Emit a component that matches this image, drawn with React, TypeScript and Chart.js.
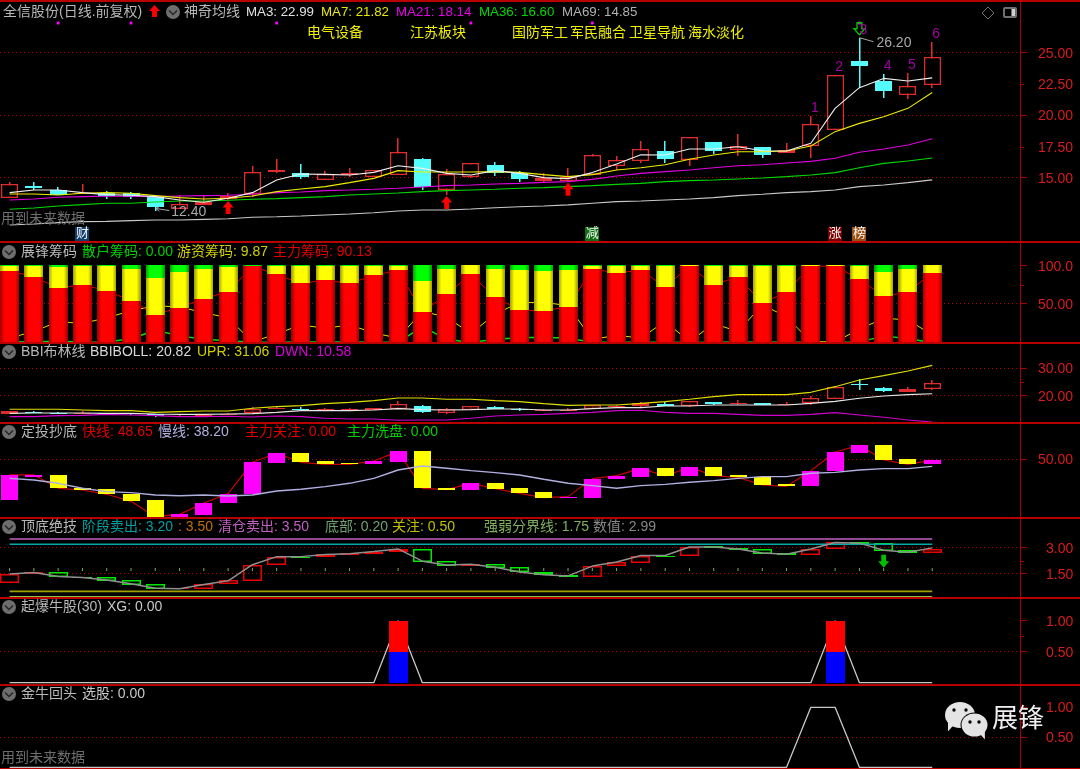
import React, { useEffect, useRef } from "react";
import { Chart, registerables } from "chart.js";

Chart.register(...registerables);

/* ---------- candles ---------- */
const open = [13.43,14.39,14.04,13.72,13.78,13.78,13.46,12.55,12.85,13.35,13.70,15.51,15.37,14.87,15.21,15.05,15.27,16.52,14.04,15.08,16.04,15.40,14.76,14.79,15.27,15.93,16.33,17.15,16.46,17.87,17.26,17.50,17.02,17.55,18.86,24.31,22.74,21.60,22.45];
const close = [14.49,14.20,13.64,13.83,13.56,13.46,12.66,12.93,13.08,13.56,15.45,15.64,15.05,15.32,15.37,15.64,17.05,14.26,15.29,16.22,15.43,14.95,14.97,15.11,16.86,16.41,17.31,16.54,18.25,17.18,17.58,16.81,17.23,19.34,23.19,23.96,21.97,22.37,24.66];
const high = [14.65,14.71,14.31,14.52,13.96,13.91,13.64,13.64,13.64,13.83,15.96,16.49,16.14,15.56,15.77,15.64,18.17,16.60,15.69,16.22,16.25,15.59,15.37,15.77,16.92,16.78,17.98,17.98,18.25,17.87,18.54,17.50,17.79,19.92,23.19,26.20,23.30,23.41,25.88];
const low = [13.43,14.04,13.64,13.72,13.30,13.30,12.40,12.55,12.85,13.24,13.51,15.43,14.92,14.87,15.11,15.05,15.27,14.04,13.64,15.03,15.16,14.68,14.57,14.71,15.27,15.64,16.17,16.22,15.98,16.92,16.78,16.62,17.02,16.62,18.86,22.16,21.41,21.33,22.21];
const ma3 = [13.83,14.04,14.04,13.83,13.67,13.62,13.51,13.24,13.06,13.38,13.83,14.84,15.32,15.29,15.24,15.45,15.98,15.77,15.37,15.24,15.59,15.37,15.03,14.95,15.43,16.12,16.86,16.84,17.31,17.31,17.50,17.18,17.15,17.77,20.56,22.21,22.95,22.74,22.99];
const ma7 = [13.72,13.72,13.64,13.78,13.83,13.78,13.59,13.43,13.32,13.38,13.56,13.91,14.12,14.31,14.63,14.97,15.59,15.48,15.48,15.48,15.51,15.45,15.27,15.11,15.27,15.64,15.82,16.06,16.49,16.84,17.10,17.10,17.15,17.55,18.70,19.36,19.89,20.56,21.82];
const ma21 = [13.24,13.32,13.46,13.51,13.54,13.54,13.51,13.56,13.59,13.62,13.70,13.83,13.88,13.99,14.04,14.10,14.18,14.28,14.39,14.44,14.52,14.57,14.65,14.71,14.89,15.16,15.37,15.51,15.64,15.82,15.98,16.06,16.20,16.33,16.57,17.05,17.31,17.63,18.14];
const ma36 = [12.50,12.61,12.77,12.87,12.98,12.98,13.08,13.16,13.16,13.22,13.30,13.35,13.43,13.51,13.64,13.72,13.80,13.91,13.99,14.04,14.10,14.18,14.23,14.31,14.39,14.49,14.57,14.71,14.79,14.84,14.92,15.00,15.11,15.24,15.43,15.82,16.17,16.36,16.60];
const ma69 = [11.25,11.33,11.44,11.52,11.54,11.60,11.65,11.65,11.70,11.75,11.86,11.91,11.97,12.05,12.13,12.23,12.37,12.45,12.45,12.53,12.63,12.71,12.77,12.85,12.98,13.11,13.16,13.24,13.32,13.43,13.59,13.70,13.83,13.91,14.04,14.31,14.44,14.63,14.85];
const eventDotBars = [2, 5, 11, 19, 24, 35];
const eventDotLevel = 27.37;
const buyArrowBars = [9, 18, 23];
const countBars = [33, 34, 35, 36, 37, 38];
const tagBars = [3, 24, 34, 35];
const tagTexts = ["财", "减", "涨", "榜"];

/* ---------- chips ---------- */
const chipMain = [93.1,85.3,70.7,75.0,67.2,54.3,36.2,45.3,56.9,65.9,98.7,88.4,76.7,81.0,76.7,87.1,94.0,39.2,62.9,88.4,58.6,42.2,40.9,46.6,95.7,90.1,94.0,72.0,99.1,75.0,85.3,50.9,65.9,99.1,99.1,82.3,59.9,65.9,90.13];
const chipHot = [6.0,14.2,27.2,24.6,32.3,40.9,47.8,46.1,38.8,31.9,0.9,11.2,22.8,18.5,22.8,12.5,5.6,40.5,32.8,11.6,37.1,51.7,52.2,47.8,3.9,9.5,5.6,27.6,0.9,24.6,14.2,48.7,33.6,0.9,0.9,17.2,31.5,29.3,9.87];
const chipRetail = [0.9,0.5,2.1,0.4,0.5,4.8,16.0,8.6,4.3,2.2,0.4,0.4,0.5,0.5,0.5,0.4,0.4,20.3,4.3,0.0,4.3,6.1,6.9,5.6,0.4,0.4,0.4,0.4,0.0,0.4,0.5,0.4,0.5,0.0,0.0,0.5,8.6,4.8,0.0];

/* ---------- BBI Boll ---------- */
const bbi = [13.74,13.86,13.86,13.86,13.74,13.74,13.50,13.38,13.38,13.50,13.62,14.10,14.71,14.71,14.71,14.95,15.43,15.07,14.95,15.07,15.31,15.31,14.95,14.95,15.43,15.79,15.79,16.39,16.39,16.75,16.75,16.75,16.75,17.35,18.07,19.16,20.00,20.48,20.82];
const upr = [15.19,15.19,15.19,14.95,14.71,14.71,14.10,14.34,14.58,14.58,15.55,16.15,16.51,17.23,17.71,18.32,19.28,19.28,18.80,18.80,18.32,17.95,17.23,16.63,16.75,16.75,17.35,17.95,18.80,19.76,20.48,20.48,20.48,21.32,23.37,25.78,27.34,29.03,31.06];
const dwn = [12.54,12.54,12.90,13.02,13.38,13.14,12.90,12.54,12.54,12.66,12.42,12.78,12.54,11.94,11.70,11.70,11.22,11.34,11.34,11.94,12.78,13.14,13.38,13.74,14.10,14.71,14.83,14.10,13.74,13.74,13.38,13.02,13.02,13.38,13.98,13.14,12.30,11.34,10.58];

/* ---------- fixed investment ---------- */
const fastOpen = [-17.8,21.1,23.9,2.8,0.6,-7.8,-18.3,-45.6,-42.8,-23.3,-7.8,43.3,60,47.2,43.3,41.7,45,63.9,2.8,-0.6,10,2.2,-5,-13.9,-13.9,16.7,20.6,35,22.2,36.7,23.3,21.1,8.3,5,30,61.1,73.3,50,41.7];
const fastClose = [23.9,23.9,1.7,-1.1,-8.3,-20,-45.6,-41.7,-22.8,-7.2,45,60,45,41.7,41.7,47.2,63.3,1.7,-0.6,10,1.1,-6.7,-13.9,-12.2,17.8,22.8,35,22.2,36.7,22.8,20,7.2,5,31.1,62.2,73.3,48.9,41.7,48.65];
const slow = [18.3,15.6,10,1.7,-3.9,-5.6,-9.4,-10.6,-9.4,-11.1,-9.4,-2.8,0,4.4,10,18.3,32.2,38.9,35,31.1,27.8,23.9,16.7,10,6.1,1.7,6.1,8.3,11.7,14.4,18.3,21.1,21.1,26.7,28.3,32.2,34.4,34.4,38.2];

/* ---------- top / bottom ---------- */
const tbOpen = [0.96,1.52,1.63,1.33,1.33,1.13,0.94,0.64,0.66,0.90,1.11,2.03,2.49,2.48,2.59,2.63,2.78,2.93,2.23,1.95,2.08,1.91,1.63,1.46,1.35,1.95,2.12,2.55,2.51,3.07,3.00,2.94,2.70,2.59,2.91,3.32,3.26,2.89,2.72];
const tbClose = [1.50,1.63,1.31,1.28,1.09,0.88,0.64,0.70,0.94,1.13,2.03,2.49,2.46,2.63,2.68,2.78,2.93,2.19,1.95,2.08,1.86,1.61,1.43,1.35,1.97,2.18,2.55,2.51,3.06,3.00,2.89,2.64,2.59,2.94,3.32,3.17,2.83,2.72,2.93];
const tbValue = [1.50,1.58,1.35,1.30,1.15,0.94,0.68,0.66,0.90,1.11,2.03,2.49,2.49,2.61,2.66,2.78,2.93,2.23,2.01,2.06,1.88,1.61,1.45,1.39,1.95,2.18,2.55,2.55,3.04,3.04,2.93,2.70,2.63,2.93,3.30,3.26,2.85,2.74,2.99];
const tbLevels = { clear: 3.5, stage: 3.2, focus: 0.5, bottom: 0.2, divide: 1.75 };
const sellArrowBars = [36];

/* ---------- signals ---------- */
const xgBars = [16, 34];
const xgHalf = 0.5;
const xgFull = 1;
const xuanguBars = [33, 34];

/* ---------- layout ---------- */
const bars = open.map((_, i) => i);
const STEP = 24.28;
const X0 = 9.6;
const PLOT_W = 1020;

const panels = [
  { id: "y0", h: 242, min: 9.89, max: 29.21, ticks: [25, 22.5, 20, 17.5, 15], grid: [25, 20, 15], short: [22.5, 17.5], pad: 11 },
  { id: "y1", h: 101, min: -0.65, max: 130.5, ticks: [100, 50], grid: [50], short: [75], pad: 11 },
  { id: "y2", h: 80, min: 10.25, max: 39.13, ticks: [30, 20], grid: [30, 20], short: [25], pad: 11 },
  { id: "y3", h: 95, min: -47.8, max: 110.5, ticks: [50], grid: [50], short: [], pad: 11 },
  { id: "y4", h: 80, min: 0.126, max: 4.697, ticks: [3, 1.5], grid: [3, 1.5], short: [2.25], pad: 19 },
  { id: "y5", h: 87, min: -0.037, max: 1.366, ticks: [1, 0.5], grid: [0.5], short: [0.75], pad: 19 },
  { id: "y6", h: 84, min: -0.028, max: 1.372, ticks: [1, 0.5], grid: [0.5], short: [0.75], pad: 19 },
];

const FONT = '"Liberation Sans","Noto Sans CJK SC",sans-serif';
const AXIS_RED = "#a80000";
const RED = "#e02c2c";
const CYAN = "#54fcfc";

type T = [string, string, number];
const headerRows: { y: number; dropdown: boolean; items: T[] }[] = [
  { y: 12, dropdown: false, items: [["全信股份(日线.前复权)", "#b8b8b8", 3], ["神奇均线", "#b8b8b8", 184], ["MA3: 22.99", "#e0e0e0", 246], ["MA7: 21.82", "#e8e800", 321], ["MA21: 18.14", "#e800e8", 396], ["MA36: 16.60", "#00d800", 479], ["MA69: 14.85", "#b0b0b0", 562]] },
  { y: 33, dropdown: false, items: [["电气设备", "#f0f000", 307], ["江苏板块", "#f0f000", 410], ["国防军工", "#f0f000", 512], ["军民融合", "#f0f000", 570], ["卫星导航", "#f0f000", 629], ["海水淡化", "#f0f000", 688]] },
  { y: 252, dropdown: true, items: [["展锋筹码", "#b8b8b8", 21], ["散户筹码: 0.00", "#00d000", 82], ["游资筹码: 9.87", "#d0d000", 177], ["主力筹码: 90.13", "#e00000", 273]] },
  { y: 352, dropdown: true, items: [["BBI布林线", "#b8b8b8", 21], ["BBIBOLL: 20.82", "#d8d8d8", 90], ["UPR: 31.06", "#d0d000", 197], ["DWN: 10.58", "#d800d8", 275]] },
  { y: 432, dropdown: true, items: [["定投抄底", "#b8b8b8", 21], ["快线: 48.65", "#e00000", 82], ["慢线: 38.20", "#b0b0e0", 158], ["主力关注: 0.00", "#e00000", 245], ["主力洗盘: 0.00", "#00d000", 347]] },
  { y: 527, dropdown: true, items: [["顶底绝技", "#b8b8b8", 21], ["阶段卖出: 3.20", "#00a0a0", 82], [": 3.50", "#c07000", 178], ["清仓卖出: 3.50", "#c060c0", 218], ["底部: 0.20", "#70a070", 325], ["关注: 0.50", "#c0c000", 392], ["强弱分界线: 1.75", "#80b060", 484], ["数值: 2.99", "#888888", 593]] },
  { y: 607, dropdown: true, items: [["起爆牛股(30)", "#b8b8b8", 21], ["XG: 0.00", "#c8c8c8", 107]] },
  { y: 694, dropdown: true, items: [["金牛回头", "#b8b8b8", 21], ["选股: 0.00", "#c8c8c8", 82]] },
];

const xy = (arr: number[]) => arr.map((y, x) => ({ x, y }));
const range = (a: number[], b: number[]) => a.map((v, x) => ({ x, y: [v, b[x]] }));
const line = (label: string, yAxisID: string, data: number[], color: string, width = 1.1, order = 10) => ({
  type: "line" as const, label, yAxisID, xAxisID: "x", data: xy(data), borderColor: color, borderWidth: width, borderJoinStyle: "bevel", pointRadius: 0, tension: 0, order,
});
const constant = (v: number) => bars.map(() => v);

const candleSets = (yAxisID: string) => [
  { type: "bar" as const, label: "wick", yAxisID, xAxisID: "x", data: range(low, high), barThickness: 1.5, grouped: false, inflateAmount: 0, order: 40,
    backgroundColor: bars.map((i) => (close[i] >= open[i] ? RED : CYAN)) },
  { type: "bar" as const, label: "body", yAxisID, xAxisID: "x", data: range(open, close), barThickness: 17, grouped: false, inflateAmount: 0, order: 30, borderSkipped: false, borderWidth: bars.map((i) => (close[i] >= open[i] ? 1.5 : 0)),
    borderColor: RED, backgroundColor: bars.map((i) => (close[i] >= open[i] ? "#000000" : CYAN)) },
];

const cylinder = (edge: string, mid: string) => (ctx: any) => {
  const c = ctx.chart;
  if (!c.chartArea || ctx.dataIndex === undefined) return mid;
  const px = c.scales.x.getPixelForValue(ctx.dataIndex);
  const g = c.ctx.createLinearGradient(px - 9.5, 0, px + 9.5, 0);
  g.addColorStop(0, edge); g.addColorStop(0.22, mid); g.addColorStop(0.8, mid); g.addColorStop(1, edge);
  return g;
};

const chipBase1 = chipMain;
const chipBase2 = chipMain.map((v, i) => v + chipHot[i]);
const chipTop = chipBase2.map((v, i) => v + chipRetail[i]);

const datasets: any[] = [
  // panel 0
  ...candleSets("y0"),
  line("MA3", "y0", ma3, "#f0f0f0"),
  line("MA7", "y0", ma7, "#ecec00"),
  line("MA21", "y0", ma21, "#e000e0"),
  line("MA36", "y0", ma36, "#00d800"),
  line("MA69", "y0", ma69, "#c8c8c8"),
  { type: "line", yAxisID: "y0", xAxisID: "x", data: eventDotBars.map((x) => ({ x, y: eventDotLevel })), showLine: false, pointStyle: "rect", pointRadius: 2, pointBackgroundColor: "#ff00ff", pointBorderWidth: 0, order: 5 },
  // panel 1
  line("chipMainLine", "y1", chipMain, "#d00000", 1, 60),
  line("chipHotLine", "y1", chipHot, "#e0e000", 1, 60),
  line("chipRetailLine", "y1", chipRetail, "#00e000", 1.5, 60),
  { type: "bar", label: "main", yAxisID: "y1", xAxisID: "x", data: range(bars.map(() => 0), chipBase1), barThickness: 19, grouped: false, inflateAmount: 0, order: 50, backgroundColor: cylinder("#a00000", "#ff0000") },
  { type: "bar", label: "hot", yAxisID: "y1", xAxisID: "x", data: range(chipBase1, chipBase2), barThickness: 19, grouped: false, inflateAmount: 0, order: 50, backgroundColor: cylinder("#a0a000", "#ffff00") },
  { type: "bar", label: "retail", yAxisID: "y1", xAxisID: "x", data: range(chipBase2, chipTop), barThickness: 19, grouped: false, inflateAmount: 0, order: 50, backgroundColor: cylinder("#00a000", "#00ff00") },
  // panel 2
  ...candleSets("y2"),
  line("BBIBOLL", "y2", bbi, "#e8e8e8"),
  line("UPR", "y2", upr, "#e0e000"),
  line("DWN", "y2", dwn, "#d000d0"),
  // panel 3
  line("fast", "y3", fastClose, "#c80000", 1.2, 60),
  { type: "bar", label: "fastBody", yAxisID: "y3", xAxisID: "x", data: range(fastOpen, fastClose), barThickness: 17, grouped: false, inflateAmount: 0, order: 50,
    backgroundColor: bars.map((i) => (fastClose[i] >= fastOpen[i] ? "#ff00ff" : "#ffff00")) },
  line("slow", "y3", slow, "#b0b0e0", 1.4, 10),
  // panel 4
  { type: "bar", label: "tb", yAxisID: "y4", xAxisID: "x", data: range(tbOpen, tbClose), barThickness: 19, grouped: false, inflateAmount: 0, order: 50, borderWidth: 1.5, borderSkipped: false, backgroundColor: "transparent",
    borderColor: bars.map((i) => (tbClose[i] >= tbOpen[i] ? "#e80000" : "#00e800")) },
  line("value", "y4", tbValue, "#909090", 1.5, 10),
  line("clear", "y4", constant(tbLevels.clear), "#c060c0", 1.5, 20),
  line("stage", "y4", constant(tbLevels.stage), "#00a8a8", 1.5, 20),
  line("focus", "y4", constant(tbLevels.focus), "#a0a000", 1.8, 20),
  line("bottom", "y4", constant(tbLevels.bottom), "#90c040", 1.2, 20),
  { type: "line", yAxisID: "y4", xAxisID: "x", data: xy(constant(tbLevels.divide)), showLine: false, pointStyle: "line", pointRotation: 90, pointRadius: 1.5, pointBorderColor: "#80b060", pointBorderWidth: 1, order: 20 },
  // panel 5
  line("xg", "y5", bars.map((i) => (xgBars.includes(i) ? xgFull : 0)), "#c8c8c8", 1.3, 60),
  { type: "bar", label: "xgLow", yAxisID: "y5", xAxisID: "x", data: xgBars.map((x) => ({ x, y: [0, xgHalf] })), barThickness: 19, grouped: false, inflateAmount: 0, order: 50, backgroundColor: "#0000ff" },
  { type: "bar", label: "xgHigh", yAxisID: "y5", xAxisID: "x", data: xgBars.map((x) => ({ x, y: [xgHalf, xgFull] })), barThickness: 19, grouped: false, inflateAmount: 0, order: 50, backgroundColor: "#ff0000" },
  // panel 6
  line("xuangu", "y6", bars.map((i) => (xuanguBars.includes(i) ? 1 : 0)), "#c8c8c8", 1.3, 10),
];

/* ---------- drawing helpers ---------- */
function arrow(c: CanvasRenderingContext2D, cx: number, tip: number, w: number, h: number, dir: 1 | -1, fill: string | null, stroke?: string) {
  const s = w * 0.22;
  c.beginPath();
  c.moveTo(cx, tip);
  c.lineTo(cx + w / 2, tip + dir * h * 0.5);
  c.lineTo(cx + s, tip + dir * h * 0.5);
  c.lineTo(cx + s, tip + dir * h);
  c.lineTo(cx - s, tip + dir * h);
  c.lineTo(cx - s, tip + dir * h * 0.5);
  c.lineTo(cx - w / 2, tip + dir * h * 0.5);
  c.closePath();
  if (fill) { c.fillStyle = fill; c.fill(); }
  if (stroke) { c.strokeStyle = stroke; c.lineWidth = 1.4; c.stroke(); }
}
function label(c: CanvasRenderingContext2D, s: string, x: number, y: number, color: string, size = 14, align: CanvasTextAlign = "left") {
  c.font = `${size}px ${FONT}`;
  c.fillStyle = color;
  c.textAlign = align;
  c.textBaseline = "middle";
  c.fillText(s, x, y);
}
function dropdown(c: CanvasRenderingContext2D, x: number, y: number) {
  c.beginPath(); c.arc(x, y, 7, 0, Math.PI * 2); c.fillStyle = "#6e6e6e"; c.fill();
  c.beginPath(); c.moveTo(x - 4, y - 1.5); c.lineTo(x, y + 2.5); c.lineTo(x + 4, y - 1.5);
  c.strokeStyle = "#262626"; c.lineWidth = 1.5; c.stroke();
}
function bubble(c: CanvasRenderingContext2D, x: number, y: number, rx: number, ry: number, tailDir: number) {
  c.fillStyle = "#e4e4e4";
  c.beginPath(); c.ellipse(x, y, rx, ry, 0, 0, Math.PI * 2); c.fill();
  c.beginPath(); c.moveTo(x + tailDir * rx * 0.35, y + ry * 0.7); c.lineTo(x + tailDir * rx * 0.8, y + ry * 1.25); c.lineTo(x + tailDir * rx * 0.8, y + ry * 0.5); c.closePath(); c.fill();
}

const snapPlugin = {
  id: "snapBars",
  afterDatasetsUpdate(chart: any) {
    chart.getSortedVisibleDatasetMetas().forEach((meta: any) => {
      if (meta.type !== "bar") return;
      meta.data.forEach((el: any) => {
        el.x = Math.round(el.x - el.width / 2) + el.width / 2;
        el.y = Math.round(el.y);
        el.base = Math.round(el.base);
        if (el.y === el.base) el.base = el.y + 1;
      });
    });
  },
};

const overlayPlugin = {
  id: "overlay",
  afterDraw(chart: any) {
    const c: CanvasRenderingContext2D = chart.ctx;
    const sx = chart.scales.x;
    const W = chart.width;
    c.save();
    // minor ticks and panel separators
    panels.forEach((p) => {
      const s = chart.scales[p.id];
      c.strokeStyle = AXIS_RED;
      c.lineWidth = 1;
      p.short.forEach((v) => {
        const y = Math.round(s.getPixelForValue(v)) + 0.5;
        c.beginPath(); c.moveTo(s.left, y); c.lineTo(s.left + 4, y); c.stroke();
      });
      c.fillStyle = "#b80000";
      c.fillRect(0, Math.round(s.bottom) - 1, W, 2);
    });
    c.fillStyle = "#b80000";
    c.fillRect(0, 0, W, 2);

    const y0 = chart.scales.y0;
    const y4 = chart.scales.y4;
    // buy arrows
    buyArrowBars.forEach((i) => arrow(c, sx.getPixelForValue(i), y0.getPixelForValue(low[i]) + 1, 11, 13, 1, "#ff0000"));
    // sell arrow on the top chart
    arrow(c, sx.getPixelForValue(35), y0.getPixelForValue(high[35]) - 3, 11, 12, -1, null, "#00c000");
    // sell arrow on the top/bottom chart
    sellArrowBars.forEach((i) => arrow(c, sx.getPixelForValue(i), y4.getPixelForValue(tbClose[i]) + 17, 11, 13, -1, "#00c000"));
    // wave counts
    countBars.forEach((b, k) => label(c, String(k + 1), sx.getPixelForValue(b) + 4, y0.getPixelForValue(high[b]) - 8, "#a000a0", 14, "center"));
    // extreme labels
    c.strokeStyle = "#a8a8a8"; c.lineWidth = 1;
    const xMin = sx.getPixelForValue(6), yMin = y0.getPixelForValue(low[6]);
    c.beginPath(); c.moveTo(xMin + 1, yMin - 2); c.lineTo(xMin + 14, yMin); c.moveTo(xMin + 4, yMin - 4); c.lineTo(xMin + 1, yMin - 2); c.lineTo(xMin + 4, yMin + 1); c.stroke();
    label(c, low[6].toFixed(2), xMin + 16, yMin + 2, "#a8a8a8");
    const xMax = sx.getPixelForValue(35), yMax = y0.getPixelForValue(high[35]);
    c.beginPath(); c.moveTo(xMax, yMax); c.lineTo(xMax + 14, yMax + 4); c.stroke();
    label(c, high[35].toFixed(2), xMax + 17, yMax + 5, "#a8a8a8");
    // tags
    const tagColors = ["#0f3d6e", "#0e6e12", "#7a0000", "#9a4e10"];
    tagBars.forEach((b, k) => {
      const x = sx.getPixelForValue(b);
      const y = y0.bottom - 8.5;
      c.fillStyle = tagColors[k];
      c.fillRect(Math.round(x - 7), Math.round(y - 7), 14, 14);
      label(c, tagTexts[k], x, y, "#f4f4f4", 13, "center");
    });
    // headers
    headerRows.forEach((r) => {
      if (r.dropdown) dropdown(c, 9, r.y);
      r.items.forEach(([s, col, x]) => label(c, s, x, r.y, col, s.startsWith("MA") ? 13.3 : 14));
    });
    arrow(c, 154.5, 5, 11, 12, 1, "#ff0000");
    dropdown(c, 173, 12);
    label(c, "用到未来数据", 1, 219, "#6e6e6e");
    label(c, "用到未来数据", 1, 758, "#6e6e6e");
    // window icons
    c.strokeStyle = "#707070"; c.lineWidth = 1;
    c.beginPath(); c.moveTo(988, 7); c.lineTo(994, 13); c.lineTo(988, 19); c.lineTo(982, 13); c.closePath(); c.stroke();
    c.fillStyle = "#707070";
    c.beginPath(); c.roundRect(1003, 7, 14, 11, 2); c.fill();
    c.fillStyle = "#d0d0d0"; c.fillRect(1012, 9, 3, 7);
    c.fillStyle = "#000"; c.fillRect(1005, 9, 6, 7);
    // watermark
    bubble(c, 960, 715, 15, 13, -1);
    c.fillStyle = "#000";
    c.beginPath(); c.arc(954, 710, 1.7, 0, 7); c.arc(966, 710, 1.7, 0, 7); c.fill();
    c.beginPath(); c.ellipse(974.5, 725, 14, 12.5, 0, 0, 7); c.fill();
    bubble(c, 974.5, 725, 13, 11.5, 1);
    c.fillStyle = "#000";
    c.beginPath(); c.arc(970, 722, 1.7, 0, 7); c.arc(979, 722, 1.7, 0, 7); c.fill();
    label(c, "展锋", 992, 720, "#f0f0f0", 26);
    c.restore();
  },
};

export default function App() {
  const ref = useRef<HTMLCanvasElement>(null);
  useEffect(() => {
    document.body.style.margin = "0";
    document.body.style.background = "#000";
    const scales: any = {
      x: { type: "linear", display: false, offset: false, min: -X0 / STEP, max: (PLOT_W - X0) / STEP, grid: { display: false } },
    };
    panels.forEach((p) => {
      scales[p.id] = {
        axis: "y",
        type: "linear",
        position: "right",
        stack: "panels",
        stackWeight: p.h,
        min: p.min,
        max: p.max,
        offset: false,
        afterBuildTicks: (s: any) => { s.ticks = p.ticks.map((value) => ({ value })); },
        afterFit: (s: any) => { s.width = 60; s.paddingTop = 0; s.paddingBottom = 0; },
        afterUpdate: (s: any) => {
          // the terminal's axis numbers sit slightly below their tick marks
          const compute = s._computeLabelItems;
          if (!s.__nudged) {
            s.__nudged = true;
            s._computeLabelItems = function (area: any) {
              const items = compute.call(this, area);
              items.forEach((it: any) => { it.options.translation = [it.options.translation[0], it.options.translation[1] + 1.2]; });
              return items;
            };
          }
        },
        ticks: {
          autoSkip: false,
          padding: p.pad,
          color: "#d81c1c",
          font: { family: FONT, size: 14 },
          callback: (v: number) => (v >= 100 ? v.toFixed(1) : v.toFixed(2)),
        },
        border: { display: true, color: AXIS_RED, width: 1, dash: [1, 3] },
        grid: {
          tickLength: 7,
          color: (ctx: any) => (ctx.tick && p.grid.includes(ctx.tick.value) ? "#b00000" : "transparent"),
          tickColor: (ctx: any) => (ctx.tick && p.short.includes(ctx.tick.value) ? "transparent" : AXIS_RED),
          tickBorderDash: [],
        },
      };
    });
    const chart = new Chart(ref.current!, {
      type: "bar",
      data: { datasets },
      options: {
        responsive: false,
        animation: false,
        events: [],
        layout: { padding: 0, autoPadding: false },
        plugins: { legend: { display: false }, tooltip: { enabled: false } },
        scales,
      } as any,
      plugins: [snapPlugin, overlayPlugin],
    } as any);
    return () => chart.destroy();
  }, []);
  return <canvas ref={ref} width={1080} height={769} style={{ display: "block", background: "#000" }} />;
}
